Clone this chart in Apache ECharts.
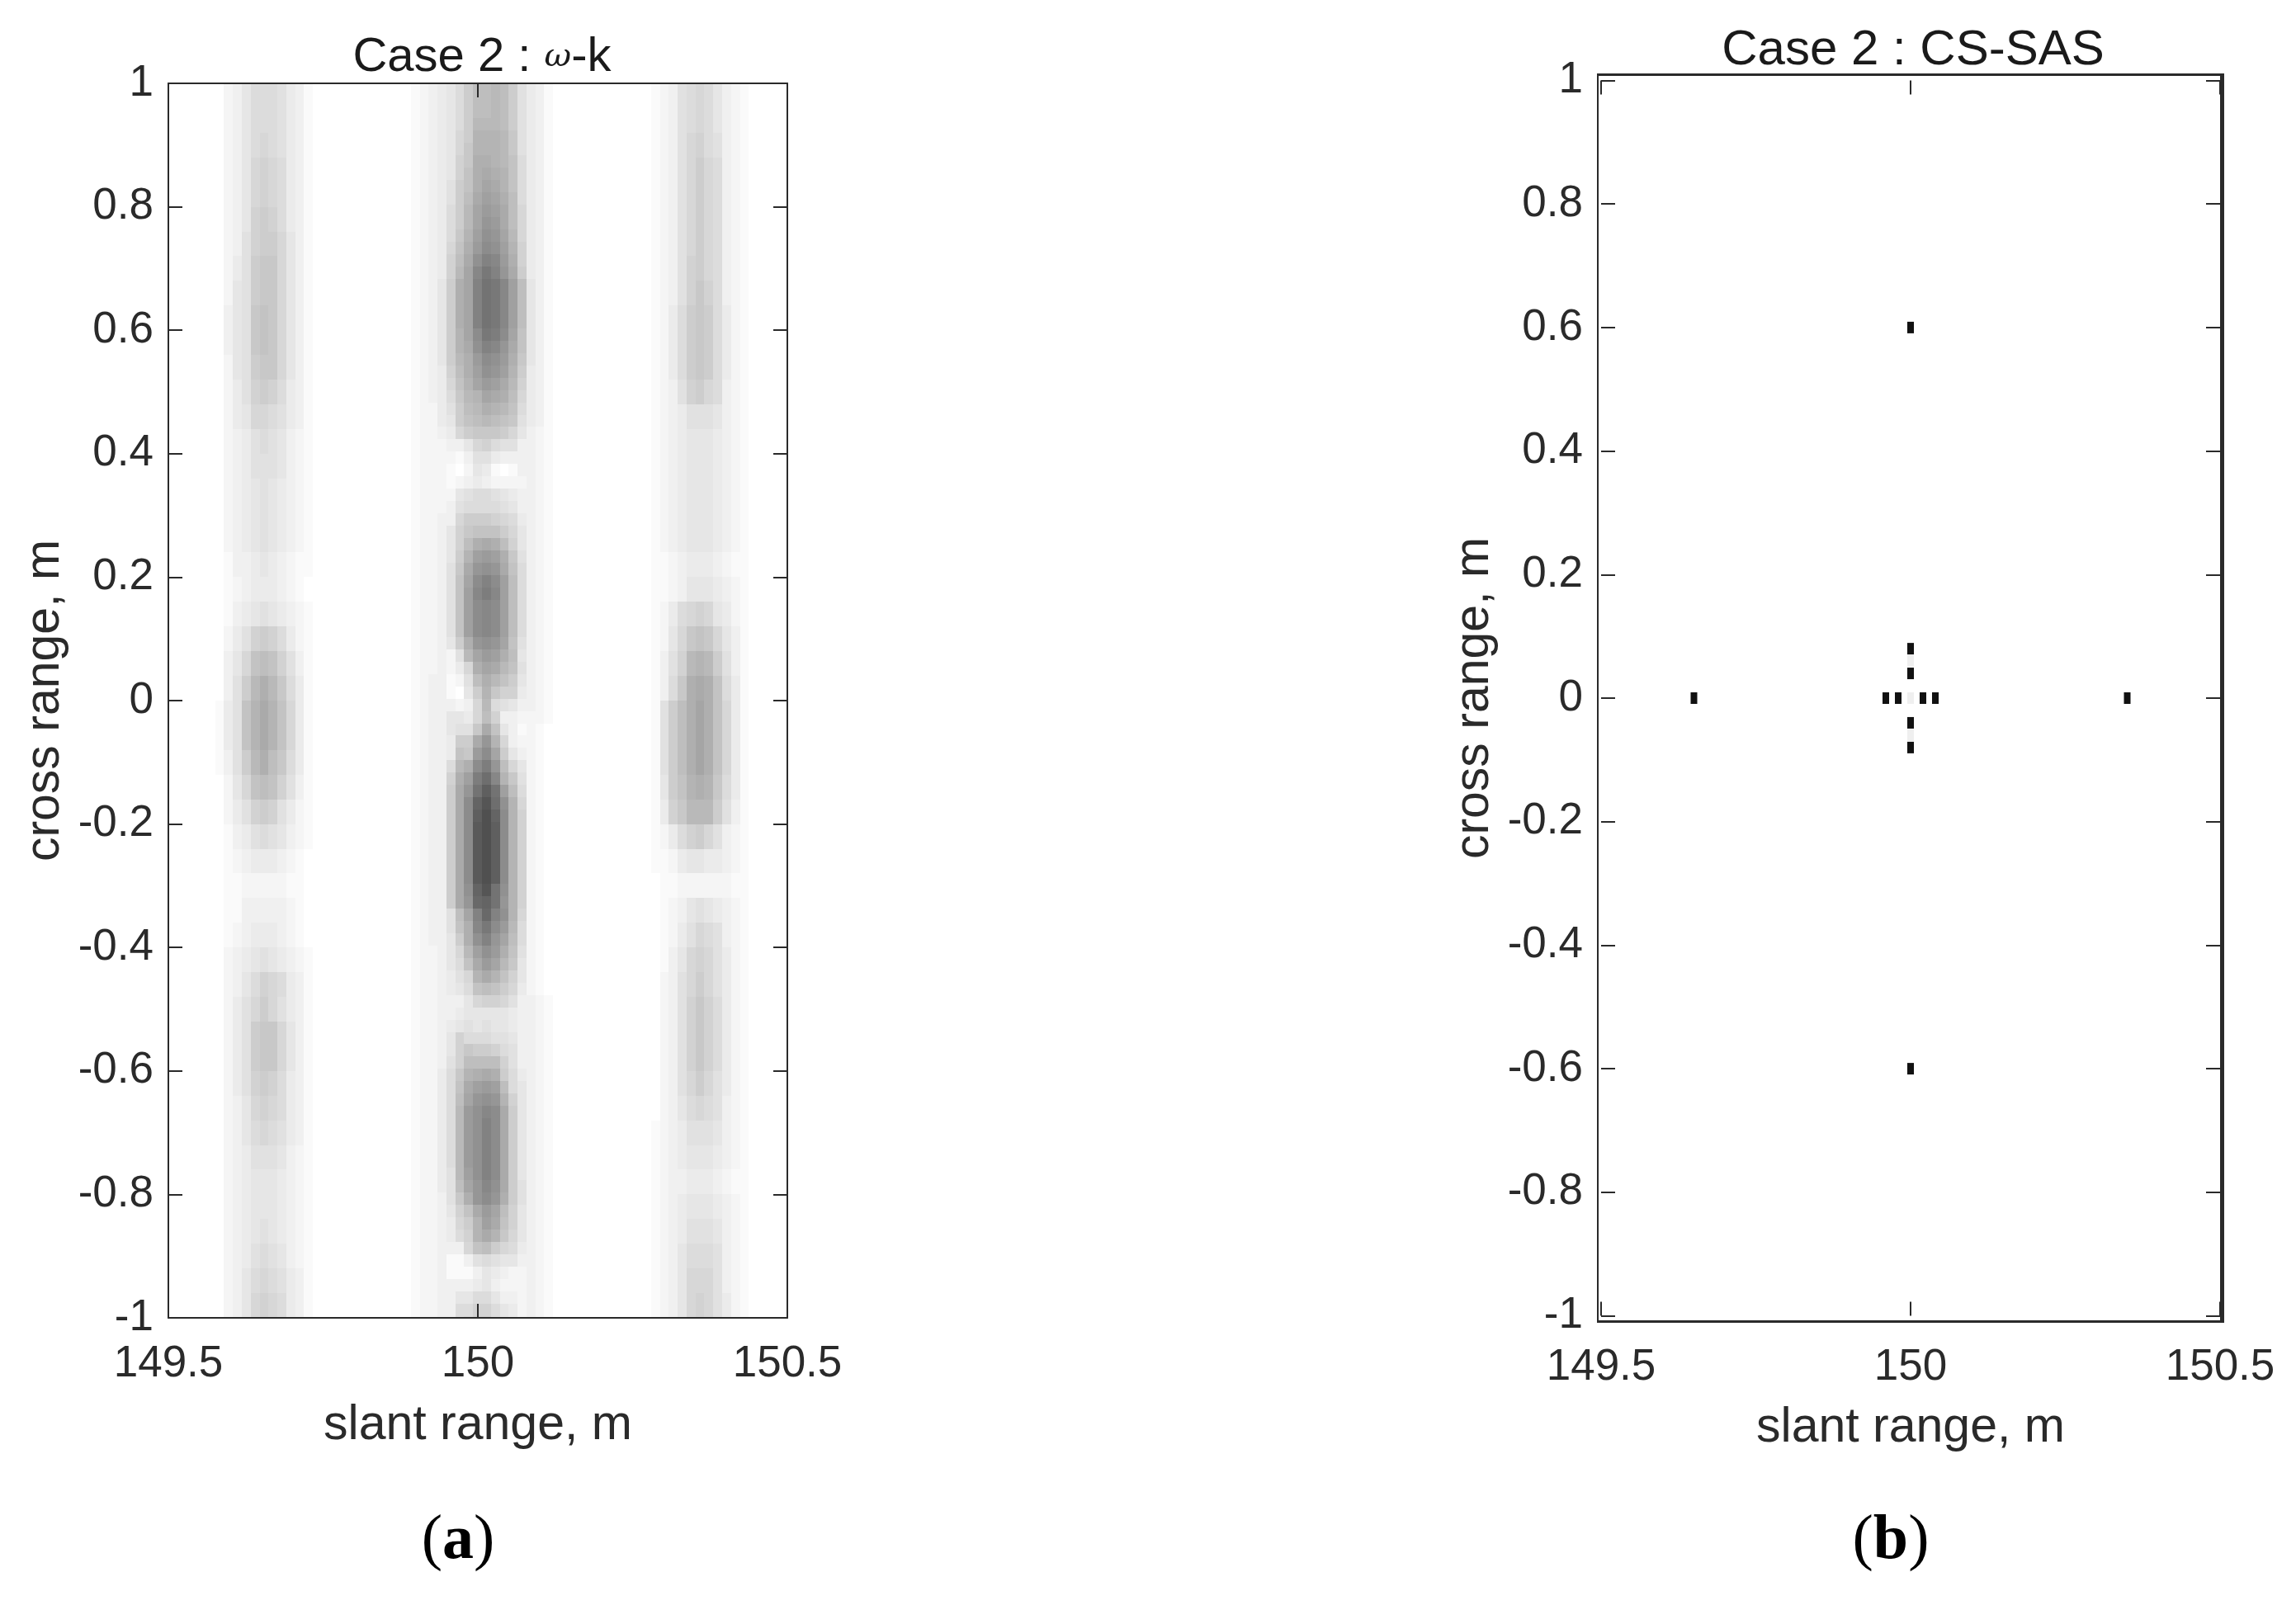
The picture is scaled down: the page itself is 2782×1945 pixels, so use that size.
<!DOCTYPE html>
<html>
<head>
<meta charset="utf-8">
<style>html,body{margin:0;padding:0;background:#fff}#chart{width:2782px;height:1945px}</style>
<script src="https://cdn.jsdelivr.net/npm/echarts@6/dist/echarts.min.js"></script>
</head>
<body>
<div id="chart"></div>
<script>
// Each character is one image cell's darkness in base 36
// (0 = white, z = darkest); one string per image row, top to bottom.
const centerBand = [
"123457addeda64310","123457addeda64310","123457addeda64310","123457aeeeda64310","123458afffeb64310",
"123458bfffeb64310","123459bggfec74310","123459cghgfc74310","12346acgihfc74310","12346adhjigd74310",
"12347aeikjhd84310","12347aeilkhd84310","12347bfjmlie84310","12348cgknmjf94310","12349dhmpokg94310",
"12349eiorplha4310","1235agipsrojd5310","1235agipsrojd5310","1235agipsrojd5310","1235agipsrojd5310",
"1235afinrqnic5310","1235afhmpolhc5310","1235aegknmkgb5310","12349dgjmljfa4310","12348cfikjhe94310",
"12347befihgd84310","12246adegfec74310","12245acdedcb64310","122348abbba853210","12223358976633210",
"12222136643333210","12221025410133210","12221234322223210","12222567765433210","12223677776533210",
"122338aaa98743210","122359bccca853210","122359dghgd953210","12235afjkjgb63210","12236bhlmlhc73210",
"12236cinpnjd73210","12236cjoqojd73210","12236cjnonjd73210","12236cjnonjd73210","12236cjnonjd73210",
"12235aglmlic63210","122326eikjgd53210","1223248gihec63210","1233126dgeca53210","1233105afb9943210",
"12333238e76533210","12335548d93322210","1233566bhc5312100","12334aahlf8322100","12334cbknia532100",
"12337egnqld852100","12339gjqtofb62100","1233ahlswsjd72100","1233ahnvytmf82100","1233ahnwzvnf92100",
"1233ahnxzwnf92100","1233ahnxzwnf92100","1233ahnxzwnf92100","1233ahnxzwnf92100","1233ahnxzwnf92100",
"1233ahmvysmf92100","1233ahluvslf92100","12336dipupmf82100","12336cgornke72100","12335agmplid72100",
"122358ejmkgc62100","122357chkieb52100","1223468fhfc952100","1223457cdca842100","12233358998633210",
"12233455555433210","12234565655433210","12235977766533210","122359baa97633210","122369dddd9633210",
"12247bfghga743210","12247chjkjd753210","12247dilmlf953210","12247ekmonha53210","12247ekmpnha53210",
"12247ekmpnha53210","12247ekmpnha53210","12247ekmpnha53210","12246ejmpnha53210","12246dilomha63210",
"12236bglnlga63210","122359chkid953210","122348afjhc953210","1223479fhfb853210","1223338cda8743210",
"12231136765533210","12231113543223210","12233334532223210","12233557753323210","12233779975423210",
"1223378aa75423210"
];
const leftBand = [
"02357776431","02357776431","02357876431","02358987431","02358987431",
"02359a97431","02369aa8531","0246abb8531","0256abb8531","0356bcb8531",
"0356bcb8531","0256abb8531","02469a97431","02458876431","02346765321",
"02346665321","02345654321","02345654321","02345654321","01334543211",
"01234443210","01345654321","02469a97421","0358cdc9631","036aegeb741",
"146cfhfc841","146cfhfc841","136aegdb741","0258cdc9631","02469a96421",
"01346765321","01234443210","01122222110","01133333210","01234443210",
"02345654321","02357987431","02468a86431","0246abb8531","0246abb8531",
"02469a97431","02358987431","02357876431","02346665321","02345554321",
"02345554321","02345654321","02346765321","02357876431","02358987431"
];
const rightBand = [
"12367875321","12367875321","12368976321","12368a87321","12368a87321",
"12368a87321","12368a87321","12369a87321","12369b97321","1247aba7421",
"1247aba7421","1247aba7421","12369a87321","12346665321","12345554321",
"12345554321","12345554321","12345554321","12345554321","11234443211",
"11235554321","12478985421","1258bcb8531","1369efea631","137bghgc741",
"16adgigc841","16adgigc841","16adgigc841","15acfgfb741","149beeea631",
"12479a86321","11245544321","01122222211","01235654321","01246876321",
"01358986421","02368a86421","02369b97421","02369b97421","02369b97421",
"02368a86421","02357876321","12346665321","12345554321","12334443211",
"12345554321","12346665321","12357776321","12358886321","12358986421"
];
// First cell edge of each band and cell size, in axis units (metres).
const centerBandStart = 149.8917, leftBandStart = 149.5756, rightBandStart = 150.2797;
const cellWidth = 0.01437;
const centerRowHeight = 0.02, sideRowHeight = 0.04, centerRowShift = 0.34, sideRowShift = 0.5;

// Panel (b) reconstructed point targets [slant range, cross range].
const strongTargets = [[150,0.6],[150,-0.6],[149.65,0],[150.35,0],
  [149.96,0],[149.98,0],[150.02,0],[150.04,0],[150,0.08],[150,0.04],[150,-0.04],[150,-0.08]];
const faintTargets = [[150,0.06],[150,0],[150,-0.06]];

const panelTitles = ["Case 2 : ", "CS-SAS"];
const xAxisName = "slant range, m", yAxisName = "cross range, m";
const xRange = [149.5, 150.5], yRange = [-1, 1], xTickStep = 0.5, yTickStep = 0.2;

const FONT = '"Liberation Sans", Arial, sans-serif';
const SERIF = '"Liberation Serif", serif';
const INK = '#2a2a2a';

function bandCells(rows, xStart, rowH, shift) {
  const out = [];
  rows.forEach((row, r) => {
    for (let c = 0; c < row.length; c++) {
      const d = parseInt(row[c], 36);
      if (d > 0) out.push([xStart + cellWidth * (c + 0.5), 1 - rowH * (r + shift), d, rowH]);
    }
  });
  return out;
}
const imageCells = [
  ...bandCells(leftBand, leftBandStart, sideRowHeight, sideRowShift),
  ...bandCells(rightBand, rightBandStart, sideRowHeight, sideRowShift),
  ...bandCells(centerBand, centerBandStart, centerRowHeight, centerRowShift)
];

function renderCell(params, api) {
  const x = api.value(0), y = api.value(1), h = api.value(3);
  const a = api.coord([x - cellWidth / 2, y + h / 2]);
  const b = api.coord([x + cellWidth / 2, y - h / 2]);
  const g = 255 - api.value(2) * 5;
  const left = Math.round(a[0]), top = Math.round(a[1]);
  return {
    type: 'rect',
    shape: { x: left, y: top, width: Math.round(b[0]) - left, height: Math.round(b[1]) - top },
    style: { fill: `rgb(${g},${g},${g})`, stroke: null }
  };
}

function axisPair(dim, gridIndex, showLine, nameGap, labelMargin) {
  const isX = dim === 'x';
  const base = {
    type: 'value', gridIndex, z: 5,
    min: (isX ? xRange : yRange)[0], max: (isX ? xRange : yRange)[1],
    interval: isX ? xTickStep : yTickStep,
    splitLine: { show: false },
    axisLine: { show: showLine, onZero: false, lineStyle: { color: INK, width: 2 } },
    axisTick: { show: true, inside: true, length: 17, lineStyle: { color: INK, width: 2 } }
  };
  return [
    Object.assign({}, base, {
      position: isX ? 'bottom' : 'left',
      name: isX ? xAxisName : yAxisName,
      nameLocation: 'middle', nameGap,
      nameTextStyle: { fontFamily: FONT, fontSize: 59, color: INK },
      axisLabel: { show: true, margin: labelMargin, fontFamily: FONT, fontSize: 53, color: INK,
                   padding: isX ? 0 : [12, 0, 0, 0],
                   formatter: v => String(+v.toFixed(1)) }
    }),
    Object.assign({}, base, { position: isX ? 'top' : 'right', axisLabel: { show: false } })
  ];
}

const frameB = { left: 1935, right: 2692, top: 89, bottom: 1602 };
function frameRect(x, y, width, height) {
  return { type: 'rect', z: 20, shape: { x, y, width, height }, style: { fill: INK } };
}
function captionStyle() {
  return { rich: {
    p: { fontFamily: SERIF, fontSize: 76, fontWeight: 'normal', color: '#000' },
    b: { fontFamily: SERIF, fontSize: 76, fontWeight: 'bold', color: '#000' } } };
}

const chart = echarts.init(document.getElementById('chart'), null, { renderer: 'canvas' });
chart.setOption({
  backgroundColor: '#ffffff',
  animation: false,
  title: [
    { text: `{m|${panelTitles[0]}}{w|ω}{m|-k}`, left: 579, top: 36, textAlign: 'center',
      textStyle: { fontWeight: 'normal', rich: {
        m: { fontFamily: FONT, fontSize: 58, fontWeight: 'normal', color: '#1a1a1a' },
        w: { fontFamily: '"DejaVu Serif", serif', fontStyle: 'italic', fontWeight: 'normal', fontSize: 40, color: '#1a1a1a' } } } },
    { text: panelTitles[0] + panelTitles[1], left: 2313, top: 26, textAlign: 'center',
      textStyle: { fontFamily: FONT, fontSize: 60, fontWeight: 'normal', color: '#1a1a1a' } },
    { text: '{p|(}{b|a}{p|)}', left: 550, top: 1825, textAlign: 'center',
      textStyle: Object.assign({ fontWeight: 'normal' }, captionStyle()) },
    { text: '{p|(}{b|b}{p|)}', left: 2286, top: 1825, textAlign: 'center',
      textStyle: Object.assign({ fontWeight: 'normal' }, captionStyle()) }
  ],
  grid: [
    { left: 204, top: 101, width: 750, height: 1496, containLabel: false },
    { left: 1940, top: 97.5, width: 750, height: 1497, containLabel: false }
  ],
  xAxis: [...axisPair('x', 0, true, 101, 30), ...axisPair('x', 1, false, 107, 36)],
  yAxis: [...axisPair('y', 0, true, 120, 18), ...axisPair('y', 1, false, 124, 22)],
  series: [
    { type: 'custom', xAxisIndex: 0, yAxisIndex: 0, clip: true, z: 2, silent: true,
      renderItem: renderCell, encode: { x: 0, y: 1 }, data: imageCells },
    { type: 'scatter', xAxisIndex: 2, yAxisIndex: 2, symbol: 'rect', symbolSize: [8, 14], z: 2,
      silent: true, itemStyle: { color: '#efefef', opacity: 1 }, data: faintTargets },
    { type: 'scatter', xAxisIndex: 2, yAxisIndex: 2, symbol: 'rect', symbolSize: [8, 14], z: 3,
      silent: true, itemStyle: { color: '#111111', opacity: 1 }, data: strongTargets }
  ],
  graphic: { elements: [
    frameRect(frameB.left, frameB.top, 2, frameB.bottom - frameB.top),
    frameRect(frameB.left, frameB.top, frameB.right - frameB.left, 3),
    frameRect(frameB.left, frameB.bottom - 2, frameB.right - frameB.left, 3),
    frameRect(frameB.right - 2, frameB.top, 5, frameB.bottom - frameB.top + 1)
  ] }
});
</script>
</body>
</html>
